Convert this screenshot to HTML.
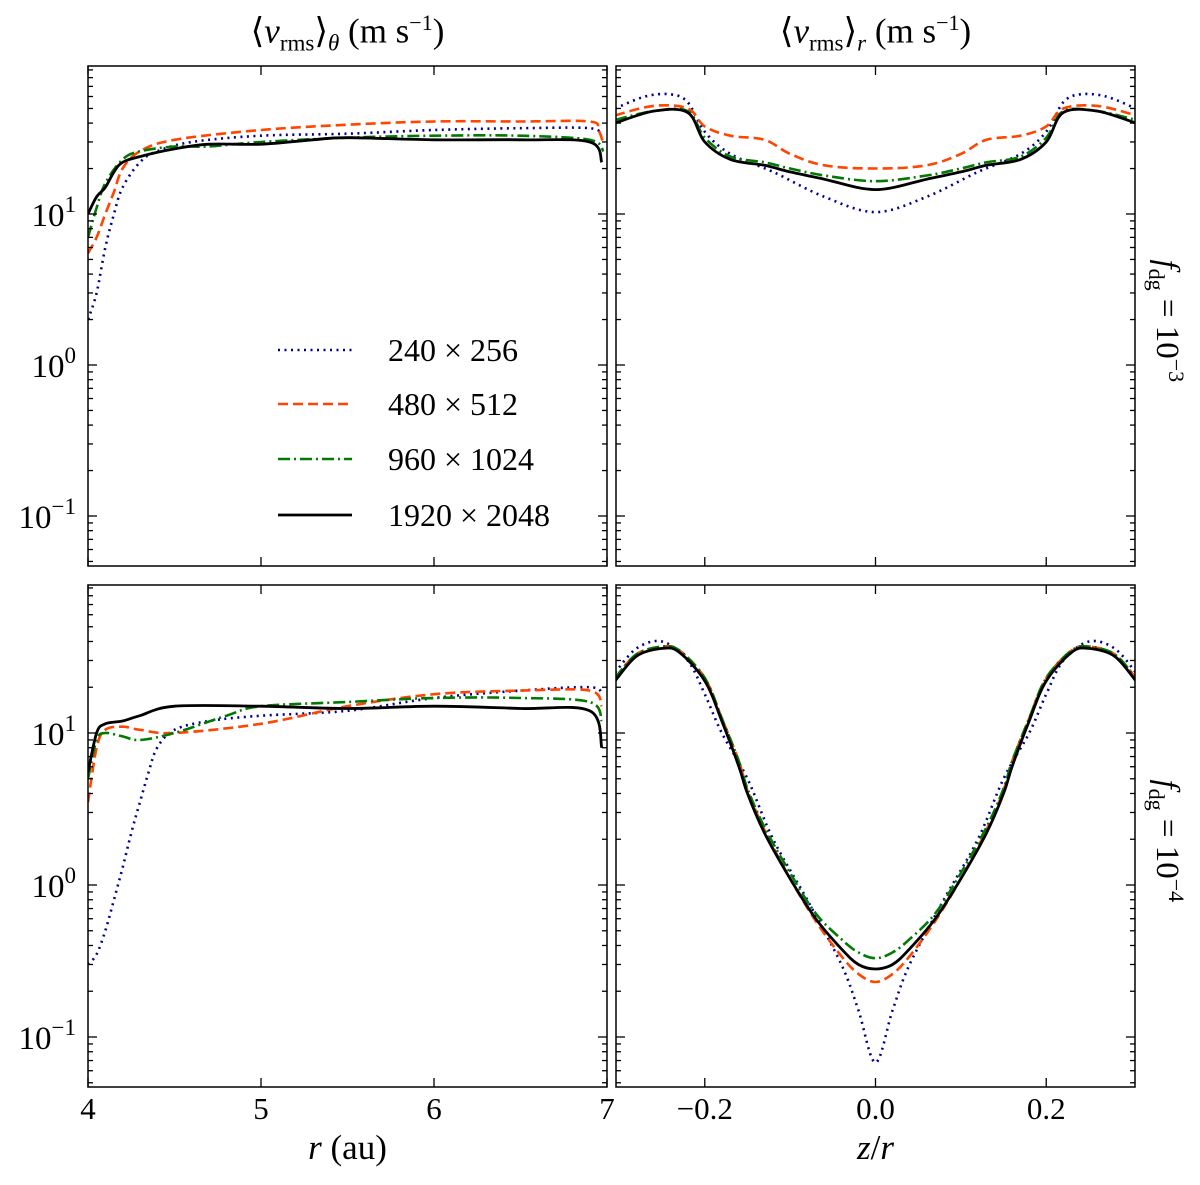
<!DOCTYPE html>
<html><head><meta charset="utf-8"><style>
body{margin:0;background:#fff;}
svg{display:block;font-family:"Liberation Serif",serif;}
</style></head><body>
<svg id="c" width="1200" height="1185" viewBox="0 0 1200 1185"></svg>
<script>
const rTL_x=[4.0,4.05,4.1,4.15,4.2,4.3,4.4,4.6,5.0,5.5,6.0,6.5,6.9,6.97];
const rTL_blue=[2,3,6,10,15,22,26,30,33,34,36,37,37,33];
const rTL_orx=[4.0,4.05,4.1,4.15,4.2,4.3,4.5,5.0,5.5,6.0,6.5,6.9,6.95,6.98];
const rTL_orange=[5.5,7,10,14,20,26,31,36,39,41,41,41,36,29];
const rTL_grx=[4.0,4.05,4.1,4.2,4.3,4.5,4.7,5.0,5.5,6.0,6.5,6.9,6.98];
const rTL_green=[7,11,16,23,26,28,28,30,32,33,33,31,26];
const rTL_bkx=[4.0,4.05,4.1,4.15,4.2,4.3,4.5,4.7,5.0,5.3,5.5,6.0,6.5,6.9,6.97];
const rTL_black=[10,13,15,19,22,24,27,29,29,31,32,31,31,30,22];

const zTR_x=[-0.305,-0.27,-0.24,-0.22,-0.2,-0.17,-0.12,-0.06,0];
const zTR_blue=[50,60,62,55,35,25,19,13,10.3];
const zTR_x2=[-0.305,-0.26,-0.22,-0.2,-0.17,-0.13,-0.1,-0.06,0];
const zTR_orange=[45,52,50,38,33,31,25,21,20];
const zTR_green=[42,48,48,32,24,22,20,18,16.5];
const zTR_black=[40,48,47,30,23,21,19,17,14.5];

const rBL_blx=[4.0,4.05,4.1,4.15,4.2,4.25,4.3,4.35,4.4,4.5,4.7,5.0,5.5,6.0,6.5,6.9,6.97];
const rBL_blue=[0.3,0.35,0.5,0.8,1.3,2.2,3.5,5.5,8,10.5,12,13,14,17,19,20,18];
const rBL_x=[4.0,4.05,4.1,4.2,4.3,4.5,5.0,5.5,6.0,6.5,6.9,6.97];
const rBL_orange=[3.5,8,10.5,11,10.5,10,11.5,15,18,19,19,15];
const rBL_grx=[4.0,4.05,4.1,4.2,4.3,4.5,4.8,5.0,5.5,6.0,6.5,6.9,6.97];
const rBL_green=[5,9,10,9.5,9,10,13,15,16,17,17,16,12];
const rBL_bkx=[4.0,4.05,4.1,4.2,4.3,4.5,5.0,5.5,6.0,6.5,6.9,6.97];
const rBL_black=[5.5,10,11.5,12,13,15,15,14.5,15,14.5,14,8];

const zBR_x=[-0.305,-0.28,-0.25,-0.23,-0.2,-0.18,-0.16,-0.15,-0.13,-0.1,-0.07,-0.04,-0.02,0];
const zBR_black=[22,32,36,34,22,12,6,4,2.2,1.1,0.6,0.38,0.3,0.28];
const zBR_orange=[23,33,37,35,23,12.5,6.5,4.2,2.3,1.1,0.58,0.34,0.26,0.23];
const zBR_green=[23,33,37,35,23,12.5,6.5,4.3,2.4,1.2,0.65,0.44,0.36,0.33];
const zBR_bx=[-0.305,-0.28,-0.25,-0.22,-0.2,-0.18,-0.15,-0.12,-0.08,-0.04,-0.02,0];
const zBR_blue=[25,36,40,30,18,10,5,2,0.8,0.3,0.15,0.068];

const xTicksL=[4,5,6,7], xTickLabL=["4","5","6","7"];
const xTicksR=[-0.2,0,0.2], xTickLabR=["\u22120.2","0.0","0.2"];
const yDecades=[-1,0,1];

const NS="http://www.w3.org/2000/svg";
const svg=document.getElementById('c');
function el(tag,attrs,parent){const e=document.createElementNS(NS,tag);for(const k in attrs)e.setAttribute(k,attrs[k]);(parent||svg).appendChild(e);return e;}

const panels={
 tl:{x0:88,x1:607,y0:66,y1:566,xmin:4,xmax:7,ref:214,dec:151},
 tr:{x0:616,x1:1135,y0:66,y1:566,xmin:-0.304,xmax:0.304,ref:214,dec:151},
 bl:{x0:88,x1:607,y0:585,y1:1087,xmin:4,xmax:7,ref:733,dec:152},
 br:{x0:616,x1:1135,y0:585,y1:1087,xmin:-0.304,xmax:0.304,ref:733,dec:152}
};
function sx(p,v){return p.x0+(v-p.xmin)/(p.xmax-p.xmin)*(p.x1-p.x0);}
function sy(p,v){return p.ref-(Math.log10(v)-1)*p.dec;}
function smooth(pts){let d="M"+pts[0][0].toFixed(1)+","+pts[0][1].toFixed(1);
 for(let i=0;i<pts.length-1;i++){const p0=pts[Math.max(0,i-1)],p1=pts[i],p2=pts[i+1],p3=pts[Math.min(pts.length-1,i+2)];
 const c1=[p1[0]+(p2[0]-p0[0])/6,p1[1]+(p2[1]-p0[1])/6],c2=[p2[0]-(p3[0]-p1[0])/6,p2[1]-(p3[1]-p1[1])/6];
 d+=" C"+c1[0].toFixed(1)+","+c1[1].toFixed(1)+" "+c2[0].toFixed(1)+","+c2[1].toFixed(1)+" "+p2[0].toFixed(1)+","+p2[1].toFixed(1);}return d;}
const styles={blue:{c:"#00008b",d:"2,4.5",w:2.6},orange:{c:"#ff4500",d:"10,5",w:2.6},green:{c:"#007a00",d:"12,4,2,4",w:2.6},black:{c:"#000",d:"",w:2.8}};
function series(p,xs,ys,s,name,mirror){
 let X=xs.slice(),Y=ys.slice();
 if(mirror){for(let i=xs.length-2;i>=0;i--){X.push(-xs[i]);Y.push(ys[i]);}}
 const pts=X.map((x,i)=>[sx(p,x),sy(p,Y[i])]);
 const st=styles[s];
 const path=el('path',{d:smooth(pts),fill:'none',stroke:st.c,'stroke-width':st.w,'stroke-dasharray':st.d,'clip-path':'url(#clip-'+p.id+')'});
 
 
}
const defs=el('defs',{});
for(const id in panels){const p=panels[id];p.id=id;const cp=el('clipPath',{id:'clip-'+id},defs);el('rect',{x:p.x0,y:p.y0,width:p.x1-p.x0,height:p.y1-p.y0},cp);}

function axes(p,xt,xl,showX,showY){
 const g=el('g',{stroke:'#000','stroke-width':1.3});
 
 
 xt.forEach((v,i)=>{const x=sx(p,v);el('line',{x1:x,x2:x,y1:p.y1,y2:p.y1-9},g);el('line',{x1:x,x2:x,y1:p.y0,y2:p.y0+9},g);
  if(showX){const t=el('text',{x:x,y:p.y1+32,'font-size':31,'text-anchor':'middle',stroke:'none'});t.textContent=xl[i];
  
  }});
 for(let d=-3;d<=2;d++){for(let m=1;m<10;m++){const v=m*Math.pow(10,d);const y=sy(p,v);if(y<p.y0||y>p.y1)continue;const L=m===1?9:5;
  el('line',{x1:p.x0,x2:p.x0+L,y1:y,y2:y},g);el('line',{x1:p.x1,x2:p.x1-L,y1:y,y2:y},g);}}
 if(showY){yDecades.forEach(d=>{const y=sy(p,Math.pow(10,d));const t=el('text',{x:p.x0-12,y:y+12,'font-size':33,'text-anchor':'end',stroke:'none'});
  t.innerHTML='10<tspan dy="-14" font-size="23">'+(d<0?'\u2212':'')+Math.abs(d)+'</tspan>';
  
  });}
 el('rect',{x:p.x0,y:p.y0,width:p.x1-p.x0,height:p.y1-p.y0,fill:'none','stroke-width':1.5},g);
}
const P=panels;
series(P.tl,rTL_x,rTL_blue,'blue','tl-240');
series(P.tl,rTL_orx,rTL_orange,'orange','tl-480');
series(P.tl,rTL_grx,rTL_green,'green','tl-960');
series(P.tl,rTL_bkx,rTL_black,'black','tl-1920');
series(P.tr,zTR_x,zTR_blue,'blue','tr-240',1);
series(P.tr,zTR_x2,zTR_orange,'orange','tr-480',1);
series(P.tr,zTR_x2,zTR_green,'green','tr-960',1);
series(P.tr,zTR_x2,zTR_black,'black','tr-1920',1);
series(P.bl,rBL_blx,rBL_blue,'blue','bl-240');
series(P.bl,rBL_x,rBL_orange,'orange','bl-480');
series(P.bl,rBL_grx,rBL_green,'green','bl-960');
series(P.bl,rBL_bkx,rBL_black,'black','bl-1920');
series(P.br,zBR_bx,zBR_blue,'blue','br-240',1);
series(P.br,zBR_x,zBR_orange,'orange','br-480',1);
series(P.br,zBR_x,zBR_green,'green','br-960',1);
series(P.br,zBR_x,zBR_black,'black','br-1920',1);
axes(P.tl,xTicksL,xTickLabL,false,true);
axes(P.tr,xTicksR,xTickLabR,false,false);
axes(P.bl,xTicksL,xTickLabL,true,true);
axes(P.br,xTicksR,xTickLabR,true,false);

const legLabels=["240 \u00d7 256","480 \u00d7 512","960 \u00d7 1024","1920 \u00d7 2048"];
const legKeys=['blue','orange','green','black'];
const legY=[350,404,459,515];
legKeys.forEach((k,i)=>{const st=styles[k];
 const g=el('g',{});
 
 
 el('line',{x1:278,x2:352,y1:legY[i],y2:legY[i],stroke:st.c,'stroke-width':st.w,'stroke-dasharray':st.d},g);
 const t=el('text',{x:388,y:legY[i]+11,'font-size':32},g);t.textContent=legLabels[i];});
</script>
<div style="position:absolute;left:0;top:0;width:1200px;height:1185px;font-family:'Liberation Serif',serif;color:#000;pointer-events:none">
 <div style="position:absolute;left:88px;width:519px;top:10px;text-align:center;font-size:35px">⟨<i>v</i><sub style="font-size:23px">rms</sub>⟩<sub style="font-size:23px"><i>θ</i></sub> (m s<sup style="font-size:22px">−1</sup>)</div>
 <div style="position:absolute;left:616px;width:519px;top:10px;text-align:center;font-size:35px">⟨<i>v</i><sub style="font-size:23px">rms</sub>⟩<sub style="font-size:23px"><i>r</i></sub> (m s<sup style="font-size:22px">−1</sup>)</div>
 <div style="position:absolute;left:88px;width:519px;top:1128px;text-align:center;font-size:35px"><i>r</i> (au)</div>
 <div style="position:absolute;left:616px;width:519px;top:1128px;text-align:center;font-size:35px"><i>z</i>/<i>r</i></div>
 <div style="position:absolute;left:1016px;top:298px;width:300px;text-align:center;transform:rotate(90deg);font-size:33px"><i>f</i><sub style="font-size:22px">dg</sub> = 10<sup style="font-size:22px">−3</sup></div>
 <div style="position:absolute;left:1016px;top:818px;width:300px;text-align:center;transform:rotate(90deg);font-size:33px"><i>f</i><sub style="font-size:22px">dg</sub> = 10<sup style="font-size:22px">−4</sup></div>
</div>
</body></html>
